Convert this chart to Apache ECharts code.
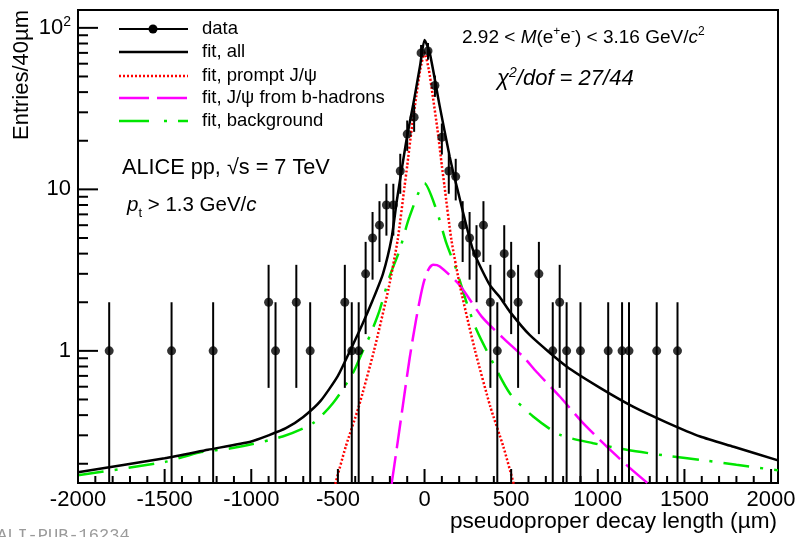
<!DOCTYPE html>
<html><head><meta charset="utf-8">
<script src="https://cdn.jsdelivr.net/npm/echarts@6/dist/echarts.min.js"></script>
<style>html,body{margin:0;padding:0;background:#fff}#c{width:798px;height:537px}</style>
</head><body><div id="c"></div>
<script>
// ---- data points (bin centre, entries, error) ----
const dataX = [-1820,-1460,-1220,-900,-860,-740,-660,-460,-420,-380,-340,-300,-260,-220,-180,-140,-100,-60,-20,20,60,100,140,180,220,260,300,340,380,420,460,500,540,660,740,780,820,900,1060,1140,1180,1340,1460];
const dataY = [1,1,1,2,1,2,1,2,1,1,3,5,6,8,8,13,22,28,70,72,44,21,13,12,6,5,4,6,2,1,4,3,2,3,1,2,1,1,1,1,1,1,1];
const dataErr = [1,1,1,1.41,1,1.41,1,1.41,1,1,1.73,2.24,2.45,2.83,2.83,3.61,4.69,5.29,8.37,8.49,6.63,4.58,3.61,3.46,2.45,2.24,2,2.45,1.41,1,2,1.73,1.41,1.73,1,1.41,1,1,1,1,1,1,1];

// ---- fit curves ----
const fitAllX = [-2000,-1500,-1250,-1000,-900,-800,-700,-600,-500,-430,-360,-300,-240,-190,-160,-105,-57,-25,0,30,87,145,190,280,377,435,492,608,820,1013,1206,1399,1591,1784,2040];
const fitAllY = [0.177,0.216,0.244,0.275,0.300,0.332,0.39,0.49,0.70,1.0,1.45,2.05,3.0,5.0,8.5,20,37.5,59,84,70,33,16,10,4.2,2.55,2.15,1.75,1.25,0.80,0.59,0.45,0.36,0.295,0.255,0.21];

const promptX = [-515,-455,-380,-292,-207,-155,-115,-100,-75,-48,-25,0,25,48,75,100,115,155,207,292,380,455,515];
const promptY = [0.15,0.255,0.45,1.0,2.45,4.87,10.5,14,23.3,37.5,55,70,55,37.5,23.3,14,10.5,4.87,2.45,1.0,0.45,0.255,0.15];

const bHadX = [-190,-160,-125,-86,-47,-9,20,49,88,203,330,454,570,647,782,907,1052,1186,1293];
const bHadY = [0.15,0.25,0.46,0.9,1.6,2.55,3.15,3.41,3.33,2.55,1.63,1.2,0.92,0.74,0.52,0.365,0.255,0.188,0.15];

const bkgX = [-2000,-1500,-1300,-1108,-819,-645,-529,-414,-356,-317,-259,-202,-144,-86,0,68,126,184,242,300,377,492,627,782,974,1167,1399,1610,1800,2040];
const bkgY = [0.17,0.205,0.235,0.25,0.295,0.356,0.474,0.727,1.0,1.23,1.79,2.88,4.2,6.8,10.9,7.5,4.64,3.17,2.0,1.35,0.92,0.547,0.392,0.302,0.268,0.244,0.224,0.21,0.197,0.182];

// ---- axis ticks ----
const xTickLabels = [-2000,-1500,-1000,-500,0,500,1000,1500,2000];
const xMinorTicks = [];
for (let v = -1900; v < 2000; v += 100) if (v % 500 !== 0) xMinorTicks.push(v);
const yTickLabels = [1,10,100];
const yMinorTicks = [0.2,0.3,0.4,0.5,0.6,0.7,0.8,0.9,2,3,4,5,6,7,8,9,20,30,40,50,60,70,80,90];

const X_MIN = -2000, X_MAX = 2040, Y_MIN = 0.152, Y_MAX = 129;
const F = '"Liberation Sans", Arial, Helvetica, sans-serif';

const pairs = (xs, ys) => xs.map((x, i) => [x, ys[i]]);

// tick marks drawn through the axes' own scales
function xTickSeries(values, len) {
  return {
    type: 'custom', silent: true, xAxisIndex: 0, yAxisIndex: 0, z: 8,
    data: values.map(v => [v, Y_MIN]), encode: {x: 0, y: 1},
    renderItem: (params, api) => {
      const p = api.coord([api.value(0), Y_MIN]);
      return {type: 'line', shape: {x1: p[0], y1: p[1], x2: p[0], y2: p[1] - len}, style: {stroke: '#000', lineWidth: 2}};
    }
  };
}
function yTickSeries(values, len) {
  return {
    type: 'custom', silent: true, xAxisIndex: 0, yAxisIndex: 0, z: 8,
    data: values.map(v => [X_MIN, v]), encode: {x: 0, y: 1},
    renderItem: (params, api) => {
      const p = api.coord([X_MIN, api.value(1)]);
      return {type: 'line', shape: {x1: p[0], y1: p[1], x2: p[0] + len, y2: p[1]}, style: {stroke: '#000', lineWidth: 2}};
    }
  };
}

const chart = echarts.init(document.getElementById('c'), null, {renderer: 'canvas'});

const option = {
  animation: false,
  backgroundColor: '#fff',
  grid: {left: 78, right: 20, top: 10, bottom: 54, show: true, borderColor: '#000', borderWidth: 2,
         containLabel: false, outerBoundsMode: 'none'},
  xAxis: [{
    type: 'value', min: X_MIN, max: X_MAX, position: 'bottom',
    splitLine: {show: false}, minorTick: {show: false},
    axisLine: {show: true, onZero: false, lineStyle: {color: '#000', width: 2}},
    axisTick: {show: false},
    axisLabel: {show: true, customValues: xTickLabels, margin: 6, color: '#000', fontSize: 22, fontFamily: F,
                formatter: v => String(v)}
  }],
  yAxis: [{
    type: 'log', logBase: 10, min: Y_MIN, max: Y_MAX, position: 'left',
    splitLine: {show: false}, minorTick: {show: false},
    axisLine: {show: true, onZero: false, lineStyle: {color: '#000', width: 2}},
    axisTick: {show: false},
    axisLabel: {
      show: true, customValues: yTickLabels, margin: 7, color: '#000', fontSize: 22, fontFamily: F,
      formatter: v => v > 50 ? '{b|10}{s|2}' : (v > 5 ? '{b|10}' : '{b|1}'),
      rich: {
        b: {fontSize: 22, fontFamily: F, color: '#000', lineHeight: 26},
        s: {fontSize: 14, fontFamily: F, color: '#000', lineHeight: 14, verticalAlign: 'top'}
      }
    }
  }],
  series: [
    {
      type: 'line', name: 'fit, background', xAxisIndex: 0, yAxisIndex: 0,
      data: pairs(bkgX, bkgY), showSymbol: false, symbol: 'none', smooth: 0.25, clip: true,
      lineStyle: {color: '#00e600', width: 2.5, type: [26, 11, 3, 11]}, z: 3
    },
    {
      type: 'line', name: 'fit, J/psi from b-hadrons', xAxisIndex: 0, yAxisIndex: 0,
      data: pairs(bHadX, bHadY), showSymbol: false, symbol: 'none', smooth: 0.25, clip: true,
      lineStyle: {color: '#ff00ff', width: 2.5, type: [28, 8]}, z: 3
    },
    {
      type: 'line', name: 'fit, prompt J/psi', xAxisIndex: 0, yAxisIndex: 0,
      data: pairs(promptX, promptY), showSymbol: false, symbol: 'none', smooth: 0.2, clip: true,
      lineStyle: {color: '#ff0000', width: 2.5, type: [2, 2]}, z: 3
    },
    {
      type: 'custom', name: 'errors', xAxisIndex: 0, yAxisIndex: 0,
      data: dataX.map((x, i) => [x, dataY[i], dataErr[i]]),
      encode: {x: 0, y: 1},
      renderItem: (params, api) => {
        const x = api.value(0), y = api.value(1), e = api.value(2);
        const lo = Math.max(y - e, Y_MIN), hi = Math.min(y + e, Y_MAX);
        const p1 = api.coord([x, hi]), p2 = api.coord([x, lo]);
        return {type: 'line', shape: {x1: p1[0], y1: p1[1], x2: p2[0], y2: p2[1]},
                style: {stroke: '#000', lineWidth: 2}};
      }, z: 4
    },
    {
      type: 'scatter', name: 'data', xAxisIndex: 0, yAxisIndex: 0,
      data: pairs(dataX, dataY), symbol: 'circle', symbolSize: 9,
      itemStyle: {color: '#000'}, z: 5
    },
    {
      type: 'line', name: 'fit, all', xAxisIndex: 0, yAxisIndex: 0,
      data: pairs(fitAllX, fitAllY), showSymbol: false, symbol: 'none', smooth: 0.2, clip: true,
      lineStyle: {color: '#000', width: 2.5}, z: 6
    },
    xTickSeries(xTickLabels, 14),
    xTickSeries(xMinorTicks, 7),
    yTickSeries(yTickLabels, 20),
    yTickSeries(yMinorTicks, 10)
  ],
  graphic: [
    // legend
    {type: 'line', shape: {x1: 119, y1: 29, x2: 188, y2: 29}, style: {stroke: '#000', lineWidth: 2}},
    {type: 'circle', shape: {cx: 153, cy: 29, r: 4.5}, style: {fill: '#000'}},
    {type: 'line', shape: {x1: 119, y1: 52, x2: 188, y2: 52}, style: {stroke: '#000', lineWidth: 2.5}},
    {type: 'line', shape: {x1: 119, y1: 76, x2: 188, y2: 76}, style: {stroke: '#ff0000', lineWidth: 2.5, lineDash: [2, 2]}},
    {type: 'line', shape: {x1: 119, y1: 98, x2: 188, y2: 98}, style: {stroke: '#ff00ff', lineWidth: 2.5, lineDash: [30, 8]}},
    {type: 'line', shape: {x1: 119, y1: 121, x2: 188, y2: 121}, style: {stroke: '#00e600', lineWidth: 2.5, lineDash: [30, 15, 3, 11]}},
    {type: 'text', x: 202, y: 29, style: {text: 'data', font: '18.5px ' + F, fill: '#000', verticalAlign: 'middle'}},
    {type: 'text', x: 202, y: 52, style: {text: 'fit, all', font: '18.5px ' + F, fill: '#000', verticalAlign: 'middle'}},
    {type: 'text', x: 202, y: 76, style: {text: 'fit, prompt J/\u03C8', font: '18.5px ' + F, fill: '#000', verticalAlign: 'middle'}},
    {type: 'text', x: 202, y: 98, style: {text: 'fit, J/\u03C8 from b-hadrons', font: '18.5px ' + F, fill: '#000', verticalAlign: 'middle'}},
    {type: 'text', x: 202, y: 121, style: {text: 'fit, background', font: '18.5px ' + F, fill: '#000', verticalAlign: 'middle'}},
    // annotations
    {type: 'text', x: 462, y: 38, style: {
      text: '{t|2.92 < }{i|M}{t|(e}{sp|+}{t|e}{sp|-}{t|) < 3.16 GeV/}{i|c}{sp|2}', verticalAlign: 'middle', fill: '#000',
      rich: {t: {fontSize: 19, fontFamily: F, fill: '#000', lineHeight: 24},
             i: {fontSize: 19, fontFamily: F, fontStyle: 'italic', fill: '#000', lineHeight: 24},
             sp: {fontSize: 12, fontFamily: F, fill: '#000', lineHeight: 12, verticalAlign: 'top'}}}},
    {type: 'text', x: 497, y: 79, style: {
      text: '{i|\u03C7}{sp|2}{i|/dof = 27/44}', verticalAlign: 'middle', fill: '#000',
      rich: {i: {fontSize: 22, fontFamily: F, fontStyle: 'italic', fill: '#000', lineHeight: 26},
             sp: {fontSize: 14, fontFamily: F, fontStyle: 'italic', fill: '#000', lineHeight: 14, verticalAlign: 'top'}}}},
    {type: 'text', x: 122, y: 168, style: {text: 'ALICE pp, \u221As = 7 TeV', font: '21.7px ' + F, fill: '#000', verticalAlign: 'middle'}},
    {type: 'text', x: 127, y: 205, style: {
      text: '{i|p}{sb|t}{t| > 1.3 GeV/}{i|c}', verticalAlign: 'middle', fill: '#000',
      rich: {t: {fontSize: 20.5, fontFamily: F, fill: '#000', lineHeight: 30},
             i: {fontSize: 20.5, fontFamily: F, fontStyle: 'italic', fill: '#000', lineHeight: 30},
             sb: {fontSize: 13, fontFamily: F, fill: '#000', lineHeight: 13, verticalAlign: 'bottom'}}}},
    // axis titles
    {type: 'text', x: 22, y: 75, rotation: Math.PI / 2, style: {text: 'Entries/40\u00B5m', font: '22px ' + F, fill: '#000', align: 'center', verticalAlign: 'middle'}},
    {type: 'text', x: 777, y: 522, style: {text: 'pseudoproper decay length (\u00B5m)', font: '22.6px ' + F, fill: '#000', align: 'right', verticalAlign: 'middle'}},
    {type: 'text', x: -3, y: 527, style: {text: 'ALI-PUB-16234', font: '17px "Liberation Mono", monospace', fill: '#9a9a9a', verticalAlign: 'top'}}
  ]
};
chart.setOption(option);
</script>
</body></html>
